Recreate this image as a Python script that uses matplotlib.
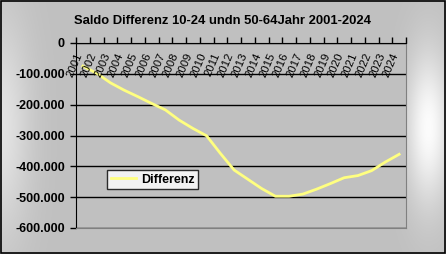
import numpy as np
import matplotlib.pyplot as plt
from matplotlib.ticker import FuncFormatter
from matplotlib.transforms import blended_transform_factory

plt.rcParams['font.family'] = ['Liberation Sans', 'DejaVu Sans']

years = [str(y) for y in range(2001, 2025)]
differenz = [-75000, -98000, -129000, -153000, -174000, -196000, -217000, -250000,
             -277000, -301000, -358000, -412000, -442000, -472000, -497000, -497000,
             -490000, -474000, -456000, -437000, -430000, -414000, -386000, -361000]
yticks = [0, -100000, -200000, -300000, -400000, -500000, -600000]

W, H = 446, 254
fig = plt.figure(figsize=(W / 100, H / 100), dpi=100)

# gradient background
bg = fig.add_axes([0, 0, 1, 1], zorder=-10)
xx, yy = np.meshgrid(np.arange(W), np.arange(H))
light = 60 * np.exp(-((xx - 428) / 22.0) ** 2) * np.exp(-((yy - 127) / 75.0) ** 2)
light += 35 * np.exp(-((xx - 0) / 30.0) ** 2) * np.exp(-((yy - 127) / 110.0) ** 2)
shade = np.clip(192 + light, 0, 255) / 255.0
bg.imshow(np.dstack([shade, shade, shade]), extent=[0, W, H, 0], aspect='auto')
bg.set_xlim(0, W)
bg.set_ylim(H, 0)
bg.axis('off')
bg.add_patch(plt.Rectangle((0.5, 0.5), W - 2, H - 2, fill=False, ec='black', lw=1.2))

ax = fig.add_axes([76 / W, 1 - 228 / H, 330 / W, 185 / H])
ax.set_facecolor('#c0c0c0')
x = np.arange(len(years))
ax.plot(x, differenz, color='#ffff80', lw=2, label='Differenz', zorder=3)
ax.set_xlim(-0.5, len(years) - 0.5)
ax.set_ylim(-600000, 0)
ax.set_yticks(yticks)
ax.yaxis.set_major_formatter(FuncFormatter(lambda v, p: f"{int(v):,}".replace(',', '.')))
for t in ax.get_yticklabels():
    t.set_fontweight('bold')
ax.tick_params(axis='y', length=4, width=1, labelsize=9, pad=4)
ax.grid(axis='y', color='black', lw=1)
ax.set_axisbelow(True)

ax.xaxis.tick_top()
ax.set_xticks(np.arange(-0.5, len(years), 1))
ax.set_xticklabels([])
ax.tick_params(axis='x', direction='out', length=4, width=1)
tr = blended_transform_factory(ax.transData, ax.transAxes)
for i, lab in enumerate(years):
    ax.text(i + 0.1, 0.955, lab, transform=tr, rotation=67, ha='right', va='top',
            fontsize=8.2, zorder=4)

ax.spines['top'].set_color('black')
ax.spines['left'].set_color('black')
ax.spines['right'].set_color('#808080')
ax.spines['bottom'].set_color('#808080')

leg = ax.legend(loc='upper left', bbox_to_anchor=(31 / 330, (228 - 170) / 185),
                frameon=True, fancybox=False, handlelength=2.0, handletextpad=0.4,
                borderpad=0.3, borderaxespad=0,
                prop={'weight': 'bold', 'size': 9})
leg.get_frame().set_edgecolor('black')
leg.get_frame().set_linewidth(1)

fig.text(222 / W, 1 - 21 / H, 'Saldo Differenz 10-24 undn 50-64Jahr 2001-2024',
         ha='center', va='center', fontsize=9.4, fontweight='bold')

fig.savefig('out.png', dpi=100)
